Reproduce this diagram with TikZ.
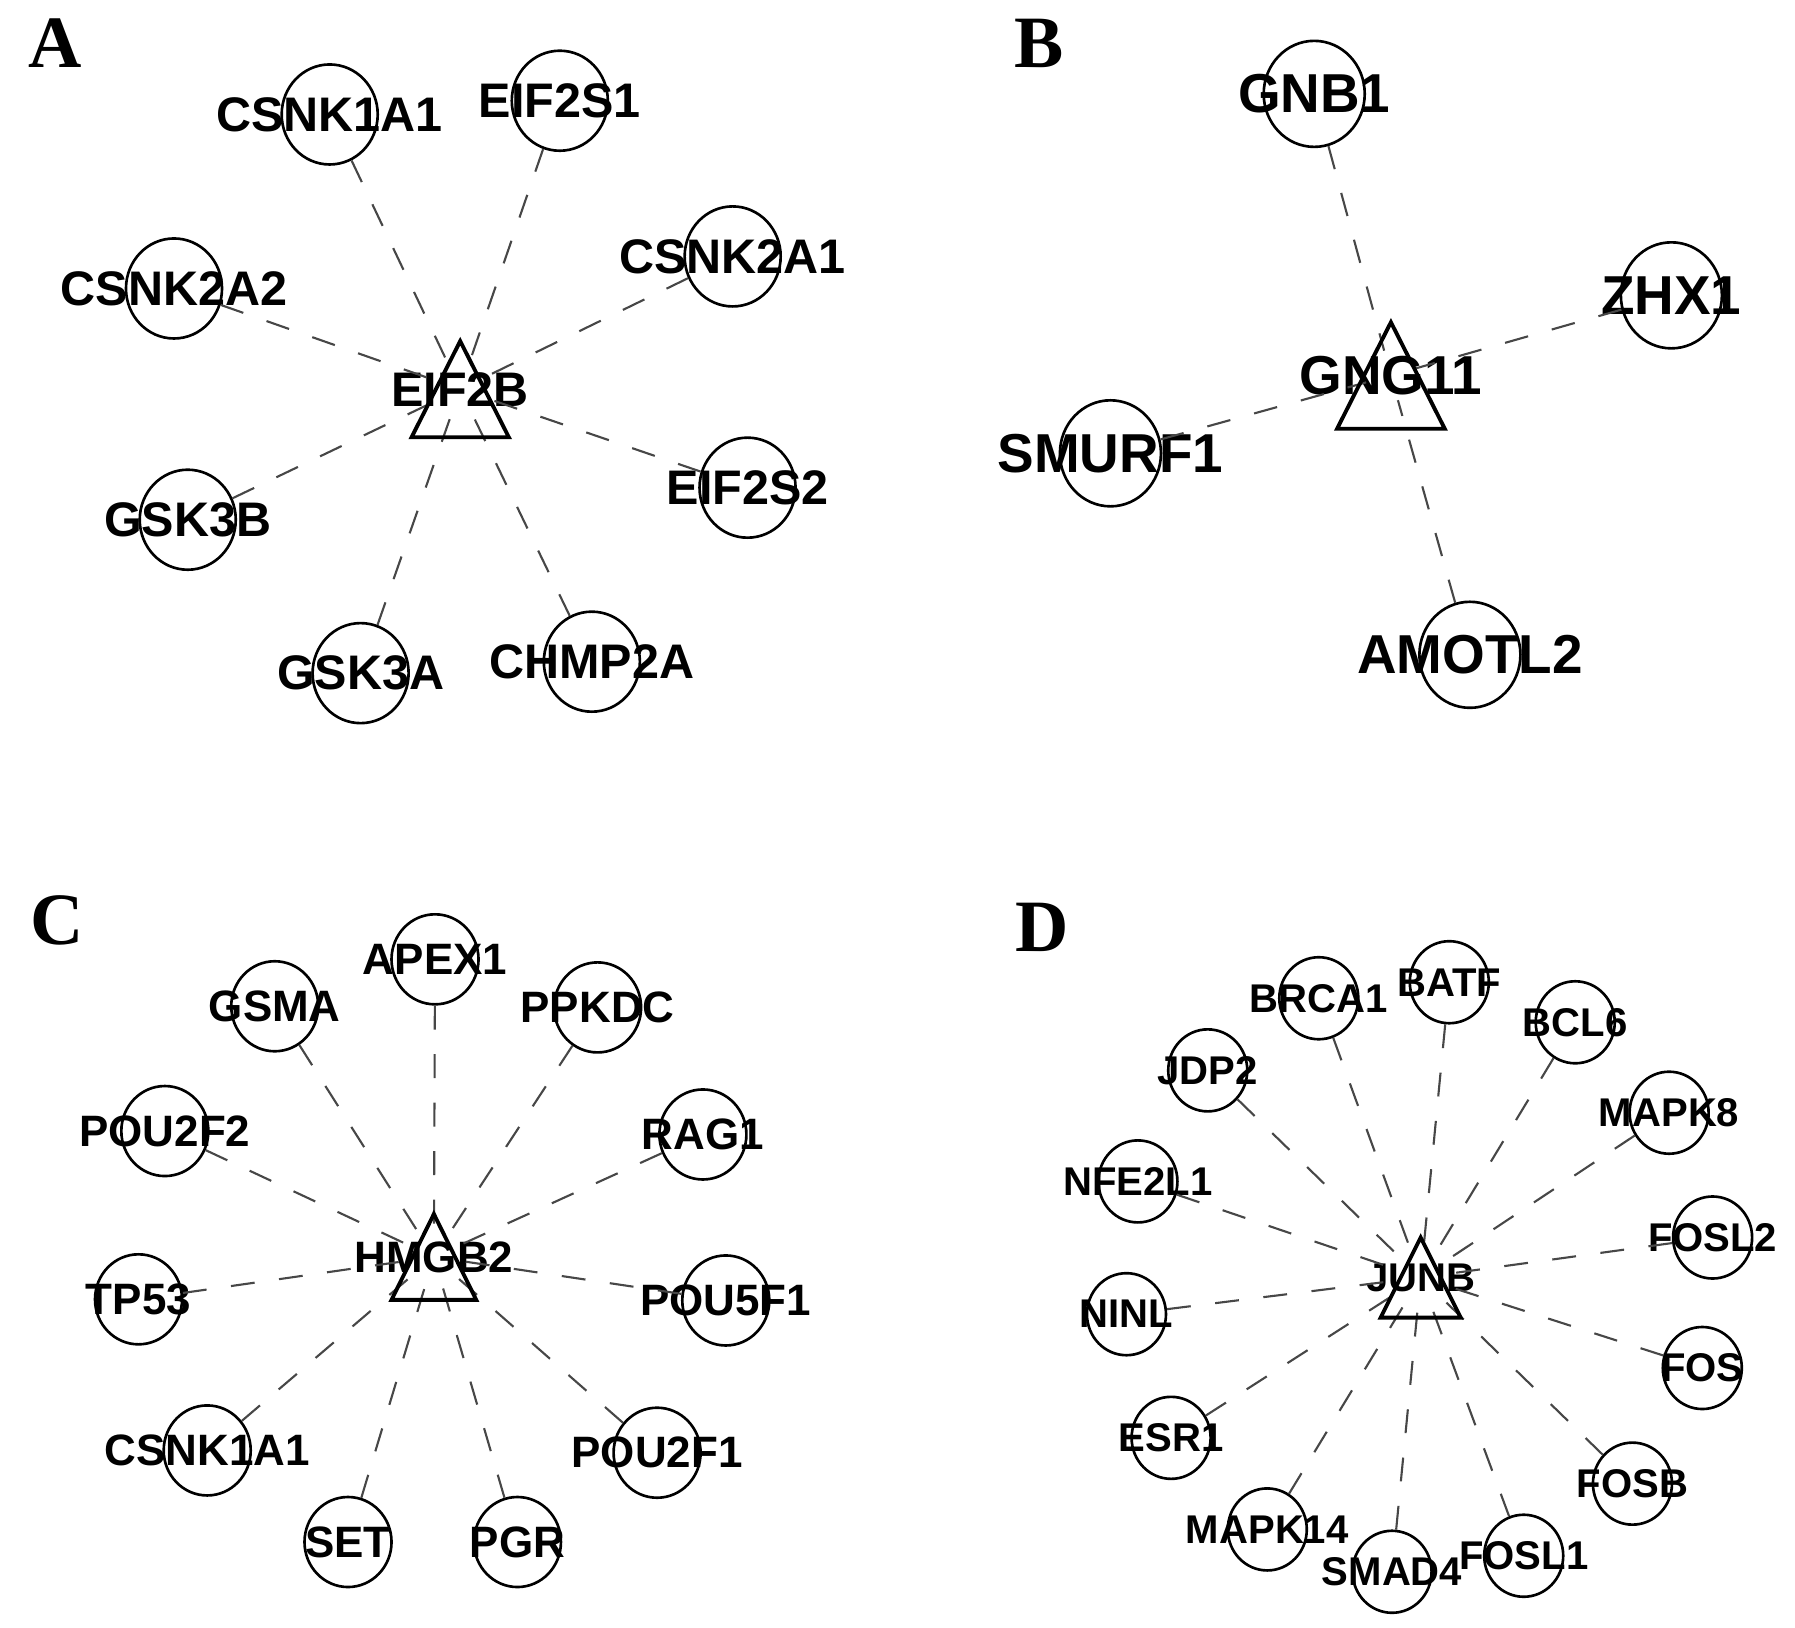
\documentclass[tikz,border=0pt]{standalone}
\usepackage{fontspec}
\setmainfont{Liberation Sans}
\newfontfamily\panelfont{Liberation Serif}
\usetikzlibrary{shapes.geometric,calc}
\begin{document}
\begin{tikzpicture}[x=0.011448cm,y=-0.011448cm]
\tikzset{
  edge/.style={draw=black!72, line width=0.6pt, dash pattern=on 6.8pt off 7pt},
  gcirc/.style={draw, shape=ellipse, line width=0.75pt, inner sep=0pt},
  circA/.style={gcirc, minimum width=0.96cm, minimum height=1.0cm, font=\fontsize{13.8}{14}\selectfont\bfseries},
  circB/.style={gcirc, minimum width=1.01cm, minimum height=1.06cm, font=\fontsize{15.6}{16}\selectfont\bfseries},
  circC/.style={gcirc, minimum width=0.87cm, minimum height=0.90cm, font=\fontsize{12.5}{13}\selectfont\bfseries},
  circD/.style={gcirc, minimum width=0.79cm, minimum height=0.82cm, font=\fontsize{11.4}{12}\selectfont\bfseries},
  hub/.style={shape=circle, minimum size=0.5cm, inner sep=0pt},
  hubA/.style={hub, font=\fontsize{13.8}{14}\selectfont\bfseries},
  hubB/.style={hub, font=\fontsize{15.6}{16}\selectfont\bfseries},
  hubC/.style={hub, minimum size=0.45cm, font=\fontsize{12.5}{13}\selectfont\bfseries},
  hubD/.style={hub, minimum size=0.42cm, font=\fontsize{11.4}{12}\selectfont\bfseries},
  tri/.style={draw, line width=1.1pt, line join=miter},
  panel/.style={font=\fontsize{21}{22}\selectfont\panelfont\bfseries, inner sep=0pt}
}
\useasboundingbox (0,0) rectangle (1568,1422);
\newcommand{\zb}[1]{\makebox[0pt]{#1}}

% ---------- Panel A ----------
\node[panel] (lA) at (48,38) {A};
\node[hubA] (eif2b) at (402,340) {\zb{EIF2B}};
\node[circA] (a1) at (288,100) {\zb{CSNK1A1}};
\node[circA] (a2) at (489,88) {\zb{EIF2S1}};
\node[circA] (a3) at (640,224) {\zb{CSNK2A1}};
\node[circA] (a4) at (152,252) {\zb{CSNK2A2}};
\node[circA] (a5) at (164,454) {\zb{GSK3B}};
\node[circA] (a6) at (653,426) {\zb{EIF2S2}};
\node[circA] (a7) at (315,588) {\zb{GSK3A}};
\node[circA] (a8) at (517,578) {\zb{CHMP2A}};
\foreach \n in {a1,a2,a3,a4,a5,a6,a7,a8} \draw[edge] (\n) -- (eif2b);
\draw[tri] ($(eif2b.center)+(-42.5,42)$) -- ($(eif2b.center)+(0,-42)$) -- ($(eif2b.center)+(42.5,42)$) -- cycle;

% ---------- Panel B ----------
\node[panel] (lB) at (908,38) {B};
\node[hubB] (gng11) at (1215,328) {\zb{GNG11}};
\node[circB] (b1) at (1148,82) {\zb{GNB1}};
\node[circB] (b2) at (1460,258) {\zb{ZHX1}};
\node[circB] (b3) at (970,396) {\zb{SMURF1}};
\node[circB] (b4) at (1284,572) {\zb{AMOTL2}};
\foreach \n in {b1,b2,b3,b4} \draw[edge] (\n) -- (gng11);
\draw[tri] ($(gng11.center)+(-47,46.5)$) -- ($(gng11.center)+(0,-46.5)$) -- ($(gng11.center)+(47,46.5)$) -- cycle;

% ---------- Panel C ----------
\node[panel] (lC) at (50,804) {C};
\node[hubC] (hmgb2) at (379,1098) {\zb{HMGB2}};
\node[circC] (c1) at (380,838) {\zb{APEX1}};
\node[circC] (c2) at (240,879) {\zb{GSMA}};
\node[circC] (c3) at (522,880) {\zb{PPKDC}};
\node[circC] (c4) at (144,988) {\zb{POU2F2}};
\node[circC] (c5) at (614,991) {\zb{RAG1}};
\node[circC] (c6) at (121,1135) {\zb{TP53}};
\node[circC] (c7) at (634,1136) {\zb{POU5F1}};
\node[circC] (c8) at (181,1267) {\zb{CSNK1A1}};
\node[circC] (c9) at (574,1269) {\zb{POU2F1}};
\node[circC] (c10) at (304,1347) {\zb{SET}};
\node[circC] (c11) at (452,1347) {\zb{PGR}};
\foreach \n in {c1,c2,c3,c4,c5,c6,c7,c8,c9,c10,c11} \draw[edge] (\n) -- (hmgb2);
\draw[tri] ($(hmgb2.center)+(-37,37.5)$) -- ($(hmgb2.center)+(0,-37.5)$) -- ($(hmgb2.center)+(37,37.5)$) -- cycle;

% ---------- Panel D ----------
\node[panel] (lD) at (910,810) {D};
\node[hubD] (junb) at (1241,1116) {\zb{JUNB}};
\node[circD] (d1) at (1266,858) {\zb{BATF}};
\node[circD] (d2) at (1152,872) {\zb{BRCA1}};
\node[circD] (d3) at (1376,893) {\zb{BCL6}};
\node[circD] (d4) at (1055,935) {\zb{JDP2}};
\node[circD] (d5) at (1458,972) {\zb{MAPK8}};
\node[circD] (d6) at (994,1032) {\zb{NFE2L1}};
\node[circD] (d7) at (1496,1081) {\zb{FOSL2}};
\node[circD] (d8) at (984,1148) {\zb{NINL}};
\node[circD] (d9) at (1487,1195) {\zb{FOS}};
\node[circD] (d10) at (1023,1256) {\zb{ESR1}};
\node[circD] (d11) at (1426,1296) {\zb{FOSB}};
\node[circD] (d12) at (1107,1336) {\zb{MAPK14}};
\node[circD] (d13) at (1216,1373) {\zb{SMAD4}};
\node[circD] (d14) at (1331,1359) {\zb{FOSL1}};
\foreach \n in {d1,d2,d3,d4,d5,d6,d7,d8,d9,d10,d11,d12,d13,d14} \draw[edge] (\n) -- (junb);
\draw[tri] ($(junb.center)+(-35,35)$) -- ($(junb.center)+(0,-35)$) -- ($(junb.center)+(35,35)$) -- cycle;
\end{tikzpicture}
\end{document}
